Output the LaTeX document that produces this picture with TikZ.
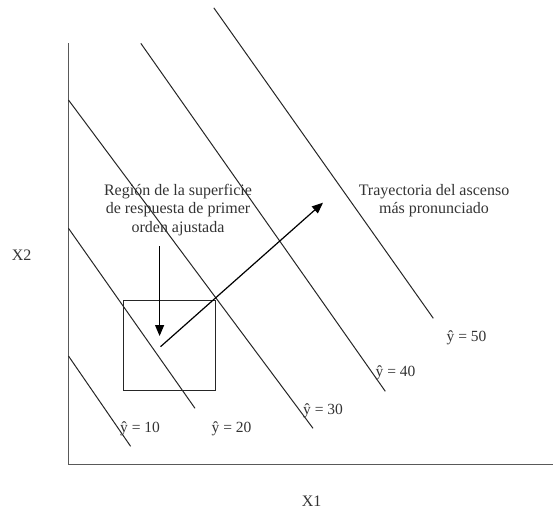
\documentclass[tikz,border=0pt]{standalone}
\usepackage{fontspec}
\setmainfont{Liberation Serif}
\usetikzlibrary{arrows.meta}
\begin{document}
\begin{tikzpicture}[x=1pt,y=-1pt,
  axis/.style={draw=black!65,line width=1.3pt},
  contour/.style={draw=black!85,line width=1pt},
  arrowline/.style={draw=black,line width=1.2pt,-{Triangle[length=11pt,width=9pt]}},
  boxstyle/.style={draw=black!85,line width=1pt},
  lbl/.style={font=\fontsize{16}{18.3}\selectfont,text=black!80,inner sep=0pt,align=center},
  ylbl/.style={font=\fontsize{15.5}{18}\selectfont,text=black!80,inner sep=0pt}]
\useasboundingbox (0,0) rectangle (553,512);
% axes
\coordinate (o) at (68.5,464.5);
\coordinate (ytop) at (68.5,43.3);
\coordinate (xend) at (553,464.5);
\draw[axis] (ytop) -- (o) -- (xend);
% contour lines
\coordinate (c10a) at (68.5,356); \coordinate (c10b) at (130.6,446.3);
\coordinate (c20a) at (68.5,228.3); \coordinate (c20b) at (195,408.3);
\coordinate (c30a) at (68.5,100); \coordinate (c30b) at (313,428.3);
\coordinate (c40a) at (140.8,43.3); \coordinate (c40b) at (385.3,391.3);
\coordinate (c50a) at (213.8,7.8); \coordinate (c50b) at (433.3,318.3);
\draw[contour] (c10a) -- (c10b);
\draw[contour] (c20a) -- (c20b);
\draw[contour] (c30a) -- (c30b);
\draw[contour] (c40a) -- (c40b);
\draw[contour] (c50a) -- (c50b);
% region box
\node[boxstyle,minimum width=91.7pt,minimum height=90.7pt,inner sep=0pt] (box) at (169.2,345.5) {};
% labels
\node[lbl] (region) at (178,210) {Región de la superficie\\de respuesta de primer\\orden ajustada};
\node[lbl] (tray) at (434,200.5) {Trayectoria del ascenso\\más pronunciado};
\node[lbl] (x2) at (21.7,255) {X2};
\node[lbl] (x1) at (311.7,501.7) {X1};
\node[ylbl] (y10) at (140,428.3) {ŷ = 10};
\node[ylbl] (y20) at (231.5,428.3) {ŷ = 20};
\node[ylbl] (y30) at (323,410.3) {ŷ = 30};
\node[ylbl] (y40) at (395.5,372.5) {ŷ = 40};
\node[ylbl] (y50) at (466.5,338) {ŷ = 50};
% arrows
\coordinate (dstart) at (159.6,246);
\coordinate (dend) at (159.6,336);
\draw[arrowline] (dstart) -- (dend);
\coordinate (pstart) at (160.5,346.7);
\coordinate (pend) at (323,202.7);
\draw[arrowline] (pstart) -- (pend);
\end{tikzpicture}
\end{document}
